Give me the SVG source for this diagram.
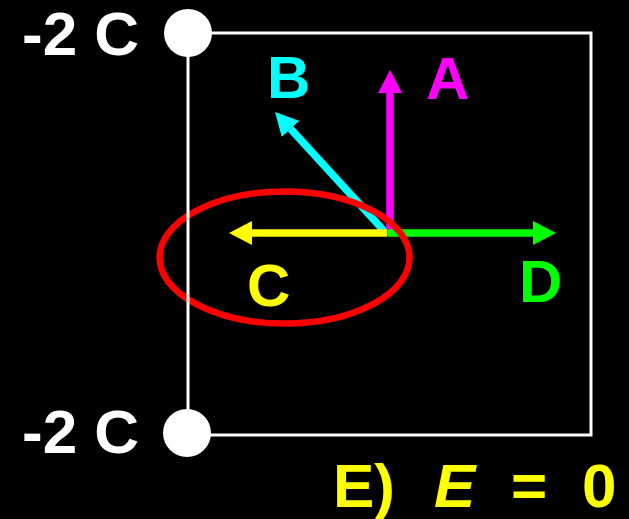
<svg xmlns="http://www.w3.org/2000/svg" width="629" height="519" viewBox="0 0 629 519">
<style>
.t{font-family:"Liberation Sans",Arial,sans-serif;font-weight:bold;}
.w{fill:#ffffff;font-size:62px;}
.lbl{font-size:60px;}
.vec{fill:none;stroke-width:7.5;}
</style>
<defs>
<marker id="hm" markerUnits="userSpaceOnUse" viewBox="0 -12 23 24" markerWidth="23" markerHeight="24" refX="0" refY="0" orient="auto"><path d="M0,-12 L23,0 L0,12 z" fill="#ff00ff"/></marker>
<marker id="hc" markerUnits="userSpaceOnUse" viewBox="0 -12 23 24" markerWidth="23" markerHeight="24" refX="0" refY="0" orient="auto"><path d="M0,-12 L23,0 L0,12 z" fill="#00ffff"/></marker>
<marker id="hy" markerUnits="userSpaceOnUse" viewBox="0 -12 23 24" markerWidth="23" markerHeight="24" refX="0" refY="0" orient="auto"><path d="M0,-12 L23,0 L0,12 z" fill="#ffff00"/></marker>
<marker id="hg" markerUnits="userSpaceOnUse" viewBox="0 -12 23 24" markerWidth="23" markerHeight="24" refX="0" refY="0" orient="auto"><path d="M0,-12 L23,0 L0,12 z" fill="#00ff00"/></marker>
</defs>
<rect width="629" height="519" fill="#000000"/>
<g id="connectors">
<line class="vec" x1="386" y1="233" x2="290.6" y2="128.9" stroke="#00ffff" marker-end="url(#hc)"/>
<line class="vec" x1="390" y1="236" x2="390" y2="93" stroke="#ff00ff" marker-end="url(#hm)"/>
<line class="vec" x1="388" y1="233" x2="533" y2="233" stroke="#00ff00" marker-end="url(#hg)"/>
<line class="vec" x1="387" y1="233" x2="252" y2="233" stroke="#ffff00" marker-end="url(#hy)"/>
</g>
<g id="highlight">
<ellipse cx="284.5" cy="257.5" rx="125" ry="66" fill="none" stroke="#ff0000" stroke-width="6.5"/>
</g>
<g id="frame">
<polyline points="188,33 591,33 591,435 188,435 188,33" fill="none" stroke="#ffffff" stroke-width="3"/>
</g>
<g id="charge-top">
<circle cx="188" cy="33" r="24" fill="#ffffff"/>
<text class="t w" x="22" y="55">-2 C</text>
</g>
<g id="charge-bottom">
<circle cx="187" cy="433" r="24" fill="#ffffff"/>
<text class="t w" x="22" y="453">-2 C</text>
</g>
<g id="label-A"><text class="t lbl" x="426" y="99" fill="#ff00ff">A</text></g>
<g id="label-B"><text class="t lbl" x="267" y="98" fill="#00ffff">B</text></g>
<g id="label-C"><text class="t lbl" x="247" y="306" fill="#ffff00">C</text></g>
<g id="label-D"><text class="t lbl" x="519" y="302" fill="#00ff00">D</text></g>
<g id="answer">
<text class="t" font-size="62" y="507" fill="#ffff00"><tspan x="333">E)</tspan><tspan x="434" font-style="italic">E</tspan><tspan x="511">=</tspan><tspan x="582">0</tspan></text>
</g>
</svg>
